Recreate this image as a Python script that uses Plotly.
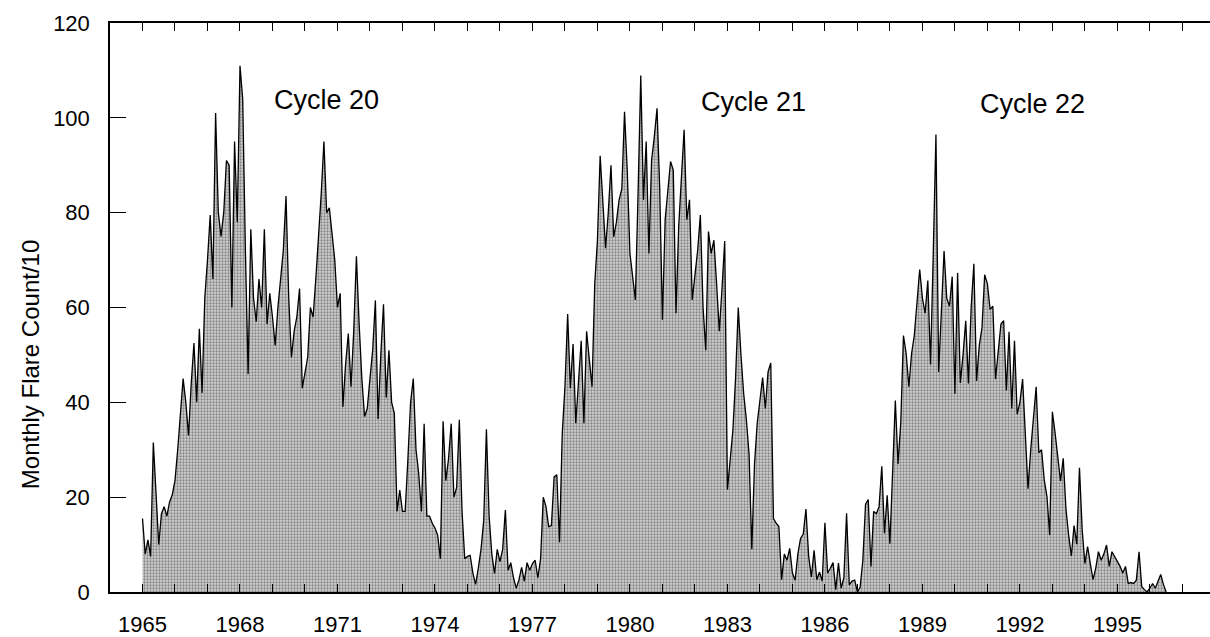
import plotly.graph_objects as go

# Monthly flare count / 10, starting January 1965
start_year = 1965

cycle20_counts = [
    15.5, 8, 11, 7.5, 31.5, 20, 10, 16.5, 18, 16, 19, 20.5,          # 1965
    23.5, 30, 38, 45, 40, 33, 44, 52.5, 40, 55.5, 42, 62,            # 1966
    70, 79.5, 66, 101, 80, 75, 80, 91, 90, 60, 95, 78,               # 1967
    111, 104, 72, 46, 76.5, 62, 57, 66, 60, 76.5, 56.5, 63,          # 1968
    58, 52, 60, 66.5, 72, 83.5, 62, 49.5, 55, 58, 64, 43,            # 1969
    46, 49.5, 60, 58, 66, 74, 84, 95, 80, 81, 75, 70,                # 1970
    60, 63, 39, 48, 54.5, 43.3, 55, 70.8, 56.5, 45, 37, 38.7,        # 1971
    45, 51, 61.5, 36.5, 50, 60.7, 41, 51, 40, 37.7, 17, 21.5,        # 1972
    17, 17, 28, 40, 45, 30, 25, 17, 35.5, 16, 16, 14.5,              # 1973
    13.5, 12, 7, 36, 23.5, 28, 35.5, 20, 22, 36.3, 17, 7,            # 1974
    7.5, 7.7, 4, 1.6, 5, 9, 15, 34.3, 16, 8, 3.9, 9,                 # 1975
]

cycle21_counts = [
    6.4, 9, 17.3, 4.6, 6.2, 3, 0.8, 2.5, 5.2, 2.3, 6.2, 4.6,         # 1976
    6, 6.7, 3, 7, 20, 18, 13.8, 14, 24.3, 24.7, 10.5, 33.4,          # 1977
    43.3, 58.6, 43, 52.3, 35.6, 45, 53, 35.6, 55, 49, 43.3, 65,      # 1978
    74.2, 92, 81.3, 72.5, 80, 90, 74.9, 78, 82.7, 85, 101.3, 89,     # 1979
    71.4, 66.5, 61.6, 84, 108.9, 82.7, 95, 71.4, 91.1, 96, 102, 85,  # 1980
    57.4, 78.5, 84, 90.8, 89, 58.8, 77, 88, 97.5, 78.5, 82.7, 61.6,  # 1981
    67, 72, 79.5, 60, 51, 76, 71.4, 74.2, 65, 55, 64, 74,            # 1982
    21.6, 28, 34, 45, 60, 50, 41.8, 36.3, 29, 9, 27, 35.6,           # 1983
    40, 45.2, 38.7, 46.4, 48.3, 15.5, 14.5, 13.8, 2.6, 8, 6.7, 9.2,  # 1984
    4, 2.5, 8, 11.3, 12.2, 17.5, 7.5, 3.2, 8.8, 2.6, 4.2, 2.3,       # 1985
    14.6, 4, 5, 6.2, 0.5, 6.1, 0.8, 3, 16.6, 1.5, 2.3, 2.5,          # 1986
]

cycle22_counts = [
    0, 1, 6.7, 18.5, 19.5, 5.4, 17, 16.5, 18, 26.5, 12.4, 20.4,      # 1987
    10.2, 25, 40.4, 27, 35.6, 54.1, 50.3, 43.3, 50.3, 54.1, 61.9, 68,  # 1988
    62, 58.8, 65.7, 48, 71.2, 96.5, 46.4, 60, 71.9, 61.9, 60.3, 66.5,  # 1989
    41.8, 67.3, 44.1, 50, 57.2, 44, 60, 69.2, 44.5, 52, 55.7, 66.9,  # 1990
    65, 59.6, 60.3, 44.9, 50, 56.5, 57.2, 42.5, 54.9, 38.7, 53, 37.5,  # 1991
    40, 44.9, 33.3, 21.8, 30, 36.4, 43.3, 29.4, 30, 23.6, 20.1, 12,  # 1992
    38, 33.5, 28, 23.4, 28.2, 17.6, 12, 7.6, 14, 10.1, 26.2, 13.1,   # 1993
    6, 9.6, 6, 2.6, 5, 8.5, 6.7, 8, 9.9, 5.4, 8.5, 7.5,              # 1994
    6.5, 5.4, 4, 5.4, 1.8, 2, 1.8, 2.5, 8.5, 1.1, 0.5, 0,            # 1995
    0.8, 1.8, 0.8, 2.5, 3.7, 1.6, 0,                                 # 1996
]

cycle_labels = ["Cycle 20", "Cycle 21", "Cycle 22"]
cycle_label_x = [1970.66, 1983.8, 1992.4]
cycle_label_y = [103.8, 103.4, 103.0]

year_ticks = list(range(1965, 1998))
labelled_years = list(range(1965, 1996, 3))
y_ticks = [0, 20, 40, 60, 80, 100, 120]

counts = cycle20_counts + cycle21_counts + cycle22_counts
time = [start_year + i / 12 for i in range(len(counts))]

FONT = "Liberation Sans, Arial, sans-serif"

fig = go.Figure()
fig.add_trace(go.Scatter(
    x=time, y=counts, mode="lines",
    line=dict(color="black", width=1.3),
    fill="tozeroy",
    fillcolor="#c4c4c4",
    fillpattern=dict(shape=".", fgcolor="#3a3a3a", bgcolor="#d2d2d2",
                     size=3, solidity=0.45),
    hoverinfo="skip",
))

for txt, lx, ly in zip(cycle_labels, cycle_label_x, cycle_label_y):
    fig.add_annotation(x=lx, y=ly, xref="x", yref="y", text=txt,
                       showarrow=False, font=dict(family=FONT, size=27, color="black"),
                       xanchor="center", yanchor="middle")

fig.add_annotation(x=-0.072, y=0.40, xref="paper", yref="paper",
                   text="Monthly Flare Count/10", textangle=-90, showarrow=False,
                   font=dict(family=FONT, size=24, color="black"),
                   xanchor="center", yanchor="middle")

fig.update_layout(
    width=1210, height=637,
    margin=dict(l=110, r=0, t=23, b=45, pad=0),
    paper_bgcolor="white", plot_bgcolor="white",
    showlegend=False,
    font=dict(family=FONT, size=22, color="black"),
)

fig.update_xaxes(
    range=[1964.0, 1997.85],
    tickmode="array", tickvals=year_ticks,
    ticktext=[str(y) if y in labelled_years else "" for y in year_ticks],
    ticks="inside", ticklen=8, tickwidth=1.3, tickcolor="black",
    showline=True, linecolor="black", linewidth=1.5, mirror="ticks",
    showgrid=False, zeroline=False,
    tickfont=dict(family=FONT, size=22, color="black"),
    ticklabelstandoff=12,
)
fig.update_yaxes(
    range=[0, 120],
    tickmode="array", tickvals=y_ticks,
    ticks="inside", ticklen=16, tickwidth=1.3, tickcolor="black",
    showline=True, linecolor="black", linewidth=1.5, mirror=False,
    showgrid=False, zeroline=False,
    tickfont=dict(family=FONT, size=22, color="black"),
    ticklabelstandoff=14,
)

fig.write_html("out.html", config={"displayModeBar": False},
               post_script="document.body.style.margin='0';")
